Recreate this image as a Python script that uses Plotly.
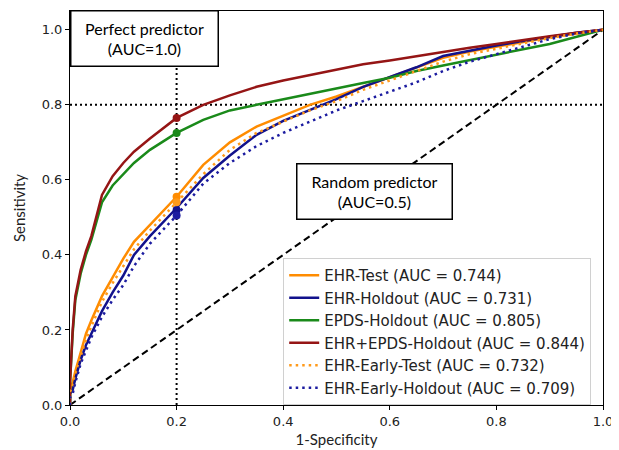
import plotly.graph_objects as go

fpr = [0, 0, 0.005, 0.01, 0.02, 0.03, 0.04, 0.06, 0.08, 0.10, 0.12, 0.15, 0.20, 0.25, 0.30,
       0.35, 0.40, 0.45, 0.50, 0.55, 0.60, 0.65, 0.70, 0.75, 0.80, 0.85, 0.90, 0.95, 1.0]

tpr_ehr_test = [0, 0.04, 0.06, 0.09, 0.14, 0.19, 0.225, 0.29, 0.34, 0.39, 0.435, 0.48, 0.555, 0.64, 0.70,
                0.742, 0.772, 0.80, 0.822, 0.848, 0.873, 0.898, 0.925, 0.942, 0.955, 0.968, 0.98, 0.99, 1.0]
tpr_ehr_hold = [0, 0.03, 0.04, 0.07, 0.12, 0.16, 0.19, 0.25, 0.30, 0.345, 0.40, 0.45, 0.525, 0.605, 0.665,
                0.72, 0.757, 0.785, 0.815, 0.848, 0.875, 0.90, 0.93, 0.945, 0.958, 0.97, 0.982, 0.992, 1.0]
tpr_epds_hold = [0, 0.06, 0.19, 0.28, 0.35, 0.40, 0.44, 0.54, 0.585, 0.615, 0.645, 0.68, 0.725, 0.76, 0.785,
                 0.80, 0.815, 0.83, 0.845, 0.858, 0.872, 0.89, 0.905, 0.92, 0.935, 0.948, 0.962, 0.98, 1.0]
tpr_ehr_epds_hold = [0, 0.06, 0.20, 0.29, 0.36, 0.41, 0.45, 0.56, 0.61, 0.645, 0.675, 0.71, 0.765, 0.80, 0.825,
                     0.848, 0.865, 0.88, 0.893, 0.908, 0.918, 0.93, 0.94, 0.952, 0.962, 0.973, 0.983, 0.992, 1.0]
tpr_early_test = [0, 0.035, 0.05, 0.08, 0.13, 0.175, 0.21, 0.275, 0.325, 0.37, 0.415, 0.465, 0.54, 0.615, 0.68,
                  0.725, 0.755, 0.785, 0.81, 0.84, 0.865, 0.89, 0.915, 0.935, 0.95, 0.965, 0.978, 0.99, 1.0]
tpr_early_hold = [0, 0.02, 0.03, 0.06, 0.11, 0.145, 0.18, 0.235, 0.28, 0.32, 0.37, 0.43, 0.505, 0.59, 0.645,
                  0.69, 0.725, 0.755, 0.785, 0.81, 0.835, 0.86, 0.89, 0.915, 0.935, 0.955, 0.975, 0.99, 1.0]

names = ["EHR-Test (AUC = 0.744)", "EHR-Holdout (AUC = 0.731)", "EPDS-Holdout (AUC = 0.805)",
         "EHR+EPDS-Holdout (AUC = 0.844)", "EHR-Early-Test (AUC = 0.732)", "EHR-Early-Holdout (AUC = 0.709)"]
series = [tpr_ehr_test, tpr_ehr_hold, tpr_epds_hold, tpr_ehr_epds_hold, tpr_early_test, tpr_early_hold]
colors = ["#FF8C00", "#12128C", "#1A8A1A", "#951515", "#FF9A1A", "#1C1CA0"]
dashes = ["solid", "solid", "solid", "solid", "2.5px,4px", "2.5px,4px"]

op_fpr = 0.2
op_tpr = [0.555, 0.52, 0.725, 0.765, 0.54, 0.505]

ref_x = [0.0, 1.0]
ref_y = [0.0, 1.0]
vline_x = [0.2, 0.2]
vline_y = [0.0, 1.05]
hline_x = [0.0, 1.0]
hline_y = [0.8, 0.8]

fig = go.Figure()

fig.add_trace(go.Scatter(x=ref_x, y=ref_y, mode="lines", showlegend=False, hoverinfo="skip",
                         line=dict(color="black", width=2, dash="7px,4px")))
fig.add_trace(go.Scatter(x=vline_x, y=vline_y, mode="lines", showlegend=False, hoverinfo="skip",
                         line=dict(color="black", width=2, dash="2px,3px")))
fig.add_trace(go.Scatter(x=hline_x, y=hline_y, mode="lines", showlegend=False, hoverinfo="skip",
                         line=dict(color="black", width=2, dash="2px,3px")))

for name, tpr, c, d in zip(names, series, colors, dashes):
    fig.add_trace(go.Scatter(x=fpr, y=tpr, mode="lines", name=name, legendgroup=name,
                             line=dict(color=c, width=2.5, dash=d)))

for tp, c in zip(op_tpr, colors):
    fig.add_trace(go.Scatter(x=[op_fpr], y=[tp], mode="markers", showlegend=False,
                             marker=dict(color=c, size=8)))

fig.add_annotation(x=0.139, y=0.976, xref="x", yref="y", text="Perfect predictor<br>(AUC=1.0)",
                   showarrow=False, font=dict(family="Lato", size=16, color="black"),
                   bgcolor="white", bordercolor="black", borderwidth=1.5, borderpad=0,
                   width=146, height=54)
fig.add_annotation(x=0.572, y=0.568, xref="x", yref="y", text="Random predictor<br>(AUC=0.5)",
                   showarrow=False, font=dict(family="Lato", size=16, color="black"),
                   bgcolor="white", bordercolor="black", borderwidth=1.5, borderpad=0,
                   width=154, height=54)

fig.update_layout(
    width=611, height=442,
    margin=dict(l=62, r=16, t=3, b=45, autoexpand=False),
    paper_bgcolor="white", plot_bgcolor="white",
    font=dict(family="DejaVu Sans", size=13, color="#222"),
    legend=dict(x=0.4, y=0.373, xanchor="left", yanchor="top",
                bgcolor="rgba(255,255,255,0.9)", bordercolor="#d0d0d0", borderwidth=1,
                font=dict(family="DejaVu Sans", size=15, color="#222"),
                tracegroupgap=0, itemwidth=30),
    xaxis=dict(range=[0, 1], tickvals=[0, 0.2, 0.4, 0.6, 0.8, 1.0], tickformat=".1f",
               showgrid=False, zeroline=False, showline=True, linecolor="black", linewidth=1,
               mirror=True, ticks="outside", ticklen=4, tickcolor="black", automargin=False,
               title=dict(text="1-Specificity", font=dict(family="Lato", size=15, color="#222"), standoff=6)),
    yaxis=dict(range=[0, 1.05], tickvals=[0, 0.2, 0.4, 0.6, 0.8, 1.0], tickformat=".1f",
               showgrid=False, zeroline=False, showline=True, linecolor="black", linewidth=1,
               mirror=True, ticks="outside", ticklen=4, tickcolor="black", automargin=False,
               title=dict(text="Sensitivity", font=dict(family="Lato", size=15, color="#222"), standoff=12)),
)

fig.write_html("out.html")
